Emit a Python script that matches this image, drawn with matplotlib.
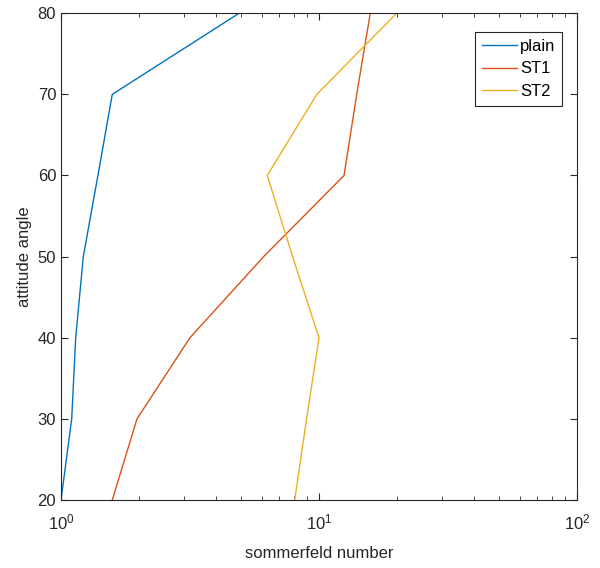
import numpy as np
import matplotlib.pyplot as plt

plt.rcParams['font.family'] = ['Liberation Sans', 'DejaVu Sans']

# attitude angle (y) and sommerfeld number (x) for each bearing
angle = [20, 30, 40, 50, 60, 70, 80]
plain = [1.0, 1.10, 1.14, 1.22, 1.39, 1.58, 4.9]
st1 = [1.58, 1.97, 3.16, 6.1, 12.5, 14.0, 15.8]
st2 = [8.05, 8.95, 10.0, 7.9, 6.3, 9.8, 20.0]

fig = plt.figure(figsize=(6, 5.68), dpi=100)
ax = fig.add_axes([0.1017, 0.1197, 0.86, 0.857])

ax.plot(plain, angle, color=(0, 0.447, 0.741), lw=1.0, label='plain')
ax.plot(st1, angle, color=(0.85, 0.325, 0.098), lw=1.0, label='ST1')
ax.plot(st2, angle, color=(0.929, 0.694, 0.125), lw=1.0, label='ST2')

ax.set_xscale('log')
ax.set_xlim(1, 100)
ax.set_ylim(20, 80)
ax.set_yticks([20, 30, 40, 50, 60, 70, 80])
ax.set_xlabel('sommerfeld number', fontsize=12, color='#262626', labelpad=10)
ax.set_ylabel('attitude angle', fontsize=12, color='#262626')

ax.tick_params(which='both', direction='in', top=True, right=True, colors='#262626', labelsize=12)
ax.tick_params(which='major', length=5)
ax.tick_params(which='minor', length=3)
ax.tick_params(axis='x', which='major', pad=9)
for s in ax.spines.values():
    s.set_color('#262626')
    s.set_linewidth(0.8)

leg = ax.legend(loc='upper right', bbox_to_anchor=(0.971, 0.961), fancybox=False, framealpha=1,
                edgecolor='#262626', fontsize=12, handlelength=2.1, borderpad=0.4,
                labelspacing=0.45, handletextpad=0.2, borderaxespad=0)
leg.get_frame().set_linewidth(0.8)

fig.savefig('out.png', dpi=100)
